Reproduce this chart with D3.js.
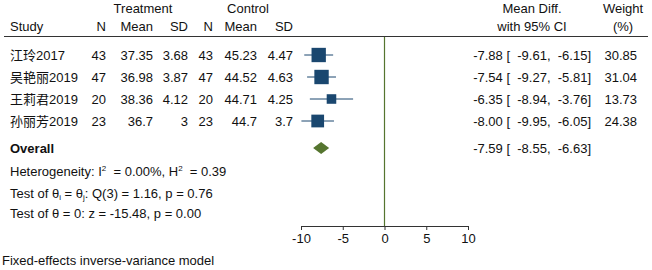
<!DOCTYPE html>
<html>
<script src="https://d3js.org/d3.v7.min.js"></script>
<style>
    body {
        margin: 0;
        background: #fff;
    }

    text {
        font-family: "Liberation Sans", Arial, sans-serif;
        font-size: 13px;
        fill: #111;
    }

    .cjk {
        font-family: "Noto Sans CJK SC", sans-serif;
    }

    .tick line {
        stroke: #333;
    }

    .domain {
        stroke: #333;
    }
</style>

<body>
</body>
<script>
    const width = 652,
        height = 270;

    // data
    const studies = ["江玲", "吴艳丽", "王莉君", "孙丽芳"];
    const years = ["2017", "2019", "2019", "2019"];
    const trtN = [43, 47, 20, 23];
    const trtMean = ["37.35", "36.98", "38.36", "36.7"];
    const trtSD = ["3.68", "3.87", "4.12", "3"];
    const ctlN = [43, 47, 20, 23];
    const ctlMean = ["45.23", "44.52", "44.71", "44.7"];
    const ctlSD = ["4.47", "4.63", "4.25", "3.7"];
    const md = [-7.88, -7.54, -6.35, -8.00];
    const lo = [-9.61, -9.27, -8.94, -9.95];
    const hi = [-6.15, -5.81, -3.76, -6.05];
    const weight = [30.85, 31.04, 13.73, 24.38];
    const overall = [-7.59, -8.55, -6.63];
    const axisTicks = [-10, -5, 0, 5, 10];

    const svg = d3.select("body").append("svg").attr("width", width).attr("height", height);

    const x = d3.scaleLinear().domain([-10, 10]).range([301, 468]);
    const y = d3.scaleLinear().domain([0, 3]).range([55, 121]);
    const yOverall = 148;
    const axisY = 226;
    const size = d3.scaleSqrt().domain([0, 100]).range([0, 25.8]);
    const navy = "#1a476f",
        green = "#55752f";

    // plain hyphen minus, like the original
    const fmt = v => v.toFixed(2);
    const ciText = (m, l, h) => `${fmt(m)} [ ${fmt(l).padStart(6)}, ${fmt(h).padStart(6)}]`;

    // headers
    const hdr = svg.append("g");
    hdr.append("text").attr("x", 143).attr("y", 13).attr("text-anchor", "middle").text("Treatment");
    hdr.append("text").attr("x", 248).attr("y", 13).attr("text-anchor", "middle").text("Control");
    hdr.append("text").attr("x", 10).attr("y", 31).text("Study");
    const colRight = [106, 153, 188, 213, 257, 293];
    const colNames = ["N", "Mean", "SD", "N", "Mean", "SD"];
    colNames.forEach((c, i) => {
        hdr.append("text").attr("x", colRight[i]).attr("y", 31).attr("text-anchor", "end").text(c);
    });
    hdr.append("text").attr("x", 532).attr("y", 13).attr("text-anchor", "middle").text("Mean Diff.");
    hdr.append("text").attr("x", 532).attr("y", 31).attr("text-anchor", "middle").text("with 95% CI");
    hdr.append("text").attr("x", 623).attr("y", 13).attr("text-anchor", "middle").text("Weight");
    hdr.append("text").attr("x", 623).attr("y", 31).attr("text-anchor", "middle").text("(%)");
    svg.append("line").attr("x1", 4).attr("x2", 648).attr("y1", 36.5).attr("y2", 36.5)
        .attr("stroke", "#333").attr("stroke-width", 1);

    // no-effect line
    svg.append("line").attr("x1", x(0)).attr("x2", x(0)).attr("y1", 37).attr("y2", axisY)
        .attr("stroke", green).attr("stroke-width", 1.2);

    // study rows
    const rows = svg.selectAll(".row").data(studies.map((s, i) => i)).join("g").attr("class", "row");
    const name = rows.append("text").attr("x", 10).attr("y", i => y(i) + 5);
    name.append("tspan").attr("class", "cjk").text(i => studies[i]);
    name.append("tspan").text(i => years[i]);
    const cols = [trtN, trtMean, trtSD, ctlN, ctlMean, ctlSD];
    cols.forEach((arr, c) => {
        rows.append("text").attr("x", colRight[c]).attr("y", i => y(i) + 5)
            .attr("text-anchor", "end").text(i => arr[i]);
    });
    rows.append("line")
        .attr("x1", i => x(lo[i])).attr("x2", i => x(hi[i]))
        .attr("y1", i => y(i)).attr("y2", i => y(i))
        .attr("stroke", navy).attr("stroke-width", 1);
    rows.append("rect")
        .attr("x", i => x(md[i]) - size(weight[i]) / 2)
        .attr("y", i => y(i) - size(weight[i]) / 2)
        .attr("width", i => size(weight[i]))
        .attr("height", i => size(weight[i]))
        .attr("fill", navy);
    rows.append("text").attr("x", 591).attr("y", i => y(i) + 5).attr("text-anchor", "end")
        .style("white-space", "pre").text(i => ciText(md[i], lo[i], hi[i]));
    rows.append("text").attr("x", 637).attr("y", i => y(i) + 5).attr("text-anchor", "end")
        .text(i => fmt(weight[i]));

    // overall
    svg.append("text").attr("x", 10).attr("y", yOverall + 5).attr("font-weight", "bold").text("Overall");
    svg.append("path")
        .attr("d", `M${x(overall[1])},${yOverall} L${x(overall[0])},${yOverall - 6} L${x(overall[2])},${yOverall} L${x(overall[0])},${yOverall + 6} Z`)
        .attr("fill", green);
    svg.append("text").attr("x", 591).attr("y", yOverall + 5).attr("text-anchor", "end")
        .style("white-space", "pre").text(ciText(overall[0], overall[1], overall[2]));

    // heterogeneity lines
    const het = svg.append("text").attr("x", 10).attr("y", 176);
    het.append("tspan").text("Heterogeneity: I");
    het.append("tspan").attr("dy", -5).attr("font-size", 8).text("2");
    het.append("tspan").attr("dy", 5).text("  = 0.00%, H");
    het.append("tspan").attr("dy", -5).attr("font-size", 8).text("2");
    het.append("tspan").attr("dy", 5).text("  = 0.39");
    het.style("white-space", "pre");

    const q = svg.append("text").attr("x", 10).attr("y", 198);
    q.append("tspan").text("Test of θ");
    q.append("tspan").attr("dy", 2).attr("font-size", 8).text("i");
    q.append("tspan").attr("dy", -2).text(" = θ");
    q.append("tspan").attr("dy", 2).attr("font-size", 8).text("j");
    q.append("tspan").attr("dy", -2).text(": Q(3) = 1.16, p = 0.76");

    svg.append("text").attr("x", 10).attr("y", 218).text("Test of θ = 0: z = -15.48, p = 0.00");

    // axis
    svg.append("g")
        .attr("transform", `translate(0,${axisY})`)
        .call(d3.axisBottom(x).tickValues(axisTicks).tickSize(4).tickPadding(4).tickFormat(d => String(d)))
        .call(g => g.selectAll(".tick text").attr("font-size", 13).attr("fill", "#111")
            .style("font-family", "'Liberation Sans', Arial, sans-serif"));

    svg.append("text").attr("x", 2).attr("y", 265).text("Fixed-effects inverse-variance model");
</script>

</html>
